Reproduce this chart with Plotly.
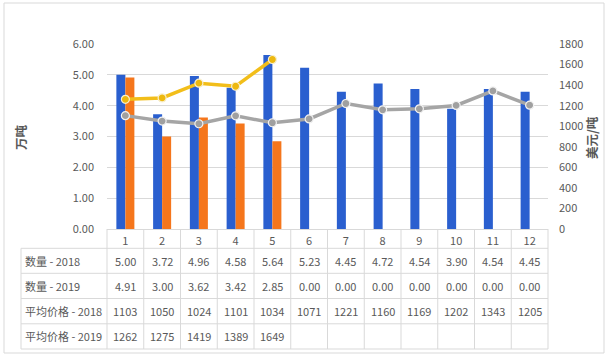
import plotly.graph_objects as go

months = [1, 2, 3, 4, 5, 6, 7, 8, 9, 10, 11, 12]
qty_2018 = [5.00, 3.72, 4.96, 4.58, 5.64, 5.23, 4.45, 4.72, 4.54, 3.90, 4.54, 4.45]
qty_2019 = [4.91, 3.00, 3.62, 3.42, 2.85, 0.00, 0.00, 0.00, 0.00, 0.00, 0.00, 0.00]
price_2018 = [1103, 1050, 1024, 1101, 1034, 1071, 1221, 1160, 1169, 1202, 1343, 1205]
price_2019 = [1262, 1275, 1419, 1389, 1649, None, None, None, None, None, None, None]
row_labels = ["数量 - 2018", "数量 - 2019", "平均价格 - 2018", "平均价格 - 2019"]
left_title = "万吨"
right_title = "美元/吨"

FONT = "Microsoft YaHei, Noto Sans CJK SC, sans-serif"
TXT = "#595959"
GRID = "#D9D9D9"

W, H = 609, 359
L, R, T, B = 107, 548, 44, 229  # plot area in pixels


def px(x):
    return (x - L) / (R - L)


def py(y):
    return (B - y) / (B - T)


fig = go.Figure()
fig.add_trace(go.Bar(x=months, y=qty_2018, name="数量 - 2018",
                     marker=dict(color="#2A5FCF", line=dict(width=0))))
fig.add_trace(go.Bar(x=months, y=qty_2019, name="数量 - 2019",
                     marker=dict(color="#F5761C", line=dict(width=0))))
fig.add_trace(go.Scatter(x=months, y=price_2018, name="平均价格 - 2018", yaxis="y2",
                         mode="lines+markers",
                         line=dict(color="#A5A5A5", width=3.5),
                         marker=dict(color="#A0A0A0", size=8, line=dict(color="#F2F2F2", width=1.2))))
fig.add_trace(go.Scatter(x=months, y=price_2019, name="平均价格 - 2019", yaxis="y2",
                         mode="lines+markers", connectgaps=False,
                         line=dict(color="#F2BE1A", width=3.5),
                         marker=dict(color="#EDB80F", size=8, line=dict(color="#F8F0D0", width=1.2))))

# data table below the plot
row_vals = [
    [f"{v:.2f}" for v in qty_2018],
    [f"{v:.2f}" for v in qty_2019],
    [f"{v}" for v in price_2018],
    ["" if v is None else f"{v}" for v in price_2019],
]
row_centers = [260.5, 285.7, 310.5, 336.0]
row_lines = [248.3, 273.3, 298.5, 323.8, 349.0]

annotations = []
for label, vals, yc in zip(row_labels, row_vals, row_centers):
    annotations.append(dict(text=label, xref="paper", yref="paper", x=px(23), y=py(yc),
                            xanchor="left", yanchor="middle", showarrow=False,
                            font=dict(size=11, color=TXT, family=FONT)))
    for m, v in zip(months, vals):
        annotations.append(dict(text=v, xref="x", yref="paper", x=m, y=py(yc),
                                xanchor="center", yanchor="middle", showarrow=False,
                                font=dict(size=11, color=TXT, family=FONT)))

annotations.append(dict(text="<b>" + left_title + "</b>", xref="paper", yref="paper", x=px(20), y=py(137),
                        textangle=-90, showarrow=False, xanchor="center", yanchor="middle",
                        font=dict(size=12.5, color=TXT, family=FONT)))
annotations.append(dict(text="<b>" + right_title + "</b>", xref="paper", yref="paper", x=px(591), y=py(138),
                        textangle=-90, showarrow=False, xanchor="center", yanchor="middle",
                        font=dict(size=12.5, color=TXT, family=FONT)))

shapes = []
for yl in row_lines:
    shapes.append(dict(type="line", xref="paper", yref="paper", x0=px(21), x1=1.0,
                       y0=py(yl), y1=py(yl), line=dict(color=GRID, width=1)))
n = len(months)
for i in range(n + 1):
    shapes.append(dict(type="line", xref="paper", yref="paper", x0=i / n, x1=i / n,
                       y0=0, y1=py(349), line=dict(color=GRID, width=1)))
shapes.append(dict(type="line", xref="paper", yref="paper", x0=px(21), x1=px(21),
                   y0=py(248.3), y1=py(349), line=dict(color=GRID, width=1)))
shapes.append(dict(type="rect", xref="paper", yref="paper", x0=px(4), x1=px(604),
                   y0=py(3), y1=py(353), line=dict(color=GRID, width=1)))

fig.update_layout(
    width=W, height=H,
    margin=dict(l=L, r=W - R, t=T, b=H - B, pad=0),
    paper_bgcolor="white", plot_bgcolor="white",
    barmode="group", bargap=0.51, bargroupgap=0,
    showlegend=False,
    font=dict(family=FONT, size=11, color=TXT),
    xaxis=dict(range=[0.5, 12.5], tickmode="array", tickvals=months,
               ticktext=[str(m) for m in months], showgrid=False, zeroline=False,
               showline=True, linecolor=GRID, linewidth=1, ticks="",
               tickfont=dict(size=11, color=TXT, family=FONT), ticklabelstandoff=2),
    yaxis=dict(range=[0, 6], tickvals=[0, 1, 2, 3, 4, 5, 6], tickformat=".2f",
               showgrid=True, gridcolor=GRID, gridwidth=1, zeroline=False,
               showline=False, ticks="", ticklabelstandoff=12,
               tickfont=dict(size=11, color=TXT, family=FONT)),
    yaxis2=dict(range=[0, 1800], tickvals=list(range(0, 1801, 200)), overlaying="y",
                side="right", showgrid=False, zeroline=False, showline=False, ticks="",
                ticklabelstandoff=10, tickfont=dict(size=11, color=TXT, family=FONT)),
    annotations=annotations,
    shapes=shapes,
)

fig.write_html("out.html", config={"displayModeBar": False},
               post_script="document.body.style.margin='0';document.body.style.overflow='hidden';")
